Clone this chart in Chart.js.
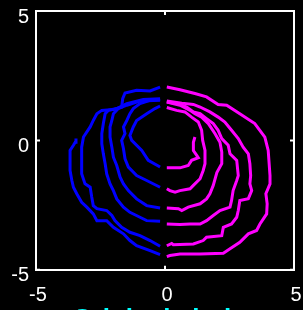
<!DOCTYPE html>
<html><head><meta charset="utf-8">
<script src="https://cdn.jsdelivr.net/npm/chart.js@4/dist/chart.umd.min.js"></script>
<style>
html,body{margin:0;padding:0;background:#000;overflow:hidden;}
#wrap{width:303px;height:335px;position:relative;}
</style></head><body>
<div id="wrap"><canvas id="c"></canvas></div>
<script>
// ---- data ----
const xTicks = [-5, 0, 5];
const yTicks = [-5, 0, 5];
const titleText = 'Original circle';

// right halves of each turn (x >= 0), magenta
const magenta1 = [[1.16,0.13],[1.10,-0.07],[1.10,-0.39],[1.23,-0.58],[1.29,-0.67],[1.03,-0.77],[0.90,-0.97],[0.58,-1.06],[0.07,-1.06]];
const magenta2 = [[0.07,1.27],[0.45,1.16],[0.77,1.10],[1.03,0.90],[1.29,0.71],[1.42,0.39],[1.46,0],[1.55,-0.39],[1.55,-0.90],[1.48,-1.16],[1.36,-1.48],[1.10,-1.74],[0.97,-1.87],[0.58,-1.94],[0.39,-2.00],[0.19,-1.94],[0.07,-1.87]];
const magenta3 = [[0.07,1.48],[0.58,1.36],[0.97,1.16],[1.16,1.03],[1.42,0.90],[1.68,0.65],[1.94,0.26],[2.13,-0.07],[2.20,-0.45],[2.20,-0.90],[2.01,-1.24],[1.87,-1.74],[1.74,-2.06],[1.61,-2.26],[1.36,-2.45],[0.90,-2.58],[0.65,-2.71],[0.52,-2.64],[0.07,-2.61]];
const magenta4 = [[0.07,1.48],[0.52,1.42],[0.84,1.29],[1.10,1.10],[1.36,1.03],[1.61,0.84],[1.87,0.65],[2.06,0.39],[2.20,0.07],[2.45,-0.19],[2.52,-0.52],[2.78,-0.77],[2.84,-1.36],[2.78,-1.55],[2.64,-1.94],[2.58,-2.32],[2.52,-2.58],[2.13,-2.71],[1.87,-2.90],[1.61,-3.10],[1.36,-3.23],[0.97,-3.23],[0.58,-3.25],[0.07,-3.23]];
const magenta5 = [[0.07,1.52],[0.65,1.44],[1.10,1.39],[1.36,1.29],[1.74,1.10],[2.06,0.90],[2.32,0.71],[2.58,0.39],[2.84,0.07],[3.03,-0.26],[3.23,-0.52],[3.29,-0.90],[3.32,-1.36],[3.29,-1.68],[3.36,-1.94],[3.23,-2.25],[2.90,-2.32],[2.84,-2.71],[2.78,-2.97],[2.58,-3.23],[2.26,-3.36],[2.20,-3.68],[1.61,-3.74],[1.48,-3.87],[1.10,-4.00],[0.32,-4.03],[0.26,-3.98],[0.07,-4.07]];
const magenta6 = [[0.07,2.06],[0.58,1.96],[1.16,1.81],[1.61,1.68],[2.06,1.39],[2.39,1.36],[2.90,1.03],[3.48,0.65],[3.87,0.13],[4.00,-0.39],[4.07,-1.36],[4.07,-1.68],[3.91,-2.06],[3.96,-2.45],[3.94,-2.84],[3.68,-3.23],[3.55,-3.48],[3.23,-3.61],[2.90,-3.94],[2.52,-4.19],[2.26,-4.36],[1.36,-4.39],[0.58,-4.39],[0.19,-4.45],[0.07,-4.49]];

// left halves of each turn (x < 0), blue
const blue1 = [[-0.19,-1.03],[-0.65,-0.77],[-0.90,-0.39],[-1.29,0],[-1.36,0.19],[-1.23,0.52],[-1.10,0.77],[-0.71,1.03],[-0.39,1.23],[-0.19,1.33]];
const blue2 = [[-0.19,-1.81],[-0.71,-1.55],[-1.10,-1.36],[-1.42,-1.03],[-1.55,-0.71],[-1.61,-0.32],[-1.68,0],[-1.55,0.26],[-1.61,0.52],[-1.48,0.77],[-1.36,1.03],[-1.23,1.23],[-0.97,1.42],[-0.58,1.55],[-0.19,1.58]];
const blue3 = [[-0.19,-2.61],[-0.71,-2.52],[-1.10,-2.26],[-1.42,-1.94],[-1.61,-1.68],[-1.74,-1.42],[-1.87,-0.97],[-2.00,-0.65],[-2.06,-0.26],[-2.13,0.13],[-2.13,0.52],[-2.06,0.77],[-2.00,1.03],[-1.81,1.23],[-1.48,1.36],[-0.97,1.52],[-0.19,1.55]];
const blue4 = [[-0.19,-3.12],[-0.71,-3.10],[-0.97,-2.97],[-1.36,-2.78],[-1.61,-2.58],[-1.87,-2.26],[-2.00,-1.94],[-2.13,-1.68],[-2.26,-1.29],[-2.32,-0.90],[-2.39,-0.52],[-2.45,-0.13],[-2.45,0.26],[-2.39,0.65],[-2.32,1.03],[-2.20,1.16],[-1.87,1.23],[-1.48,1.42],[-0.84,1.58],[-0.19,1.61]];
const blue5 = [[-0.19,-4.09],[-0.58,-3.87],[-0.97,-3.68],[-1.36,-3.55],[-1.68,-3.36],[-1.94,-3.10],[-2.06,-2.90],[-2.26,-2.71],[-2.64,-2.64],[-2.78,-2.52],[-2.84,-2.19],[-2.90,-1.81],[-3.10,-1.68],[-3.23,-1.29],[-3.23,-0.77],[-3.23,-0.26],[-3.16,0.13],[-2.90,0.52],[-2.78,0.77],[-2.64,1.03],[-2.45,1.16],[-2.00,1.19],[-1.68,1.29],[-1.64,1.61],[-1.55,1.83],[-1.10,1.94],[-0.58,1.91],[-0.19,2.06]];
const blue6 = [[-0.19,-4.41],[-0.58,-4.26],[-1.10,-4.07],[-1.36,-3.87],[-1.61,-3.61],[-2.00,-3.36],[-2.26,-3.10],[-2.64,-3.10],[-2.78,-2.84],[-3.03,-2.58],[-3.23,-2.39],[-3.42,-2.06],[-3.55,-1.81],[-3.61,-1.55],[-3.68,-1.16],[-3.68,-0.65],[-3.68,-0.39],[-3.55,-0.19],[-3.48,-0.07],[-3.45,0.07]];

const rightHalves = [magenta1, magenta2, magenta3, magenta4, magenta5, magenta6];
const leftHalves = [blue1, blue2, blue3, blue4, blue5, blue6];

// ---- chart ----
const FONT = '"Liberation Sans", Arial, Helvetica, sans-serif';
const toPts = arr => arr.map(p => ({x: p[0], y: p[1]}));
const lineDs = (arr, color) => ({data: toPts(arr), borderColor: color, backgroundColor: color,
  borderWidth: 3, showLine: true, pointRadius: 0, pointHoverRadius: 0, fill: false, tension: 0});
const datasets = [];
leftHalves.forEach(s => datasets.push(lineDs(s, '#0000ff')));
rightHalves.forEach(s => datasets.push(lineDs(s, '#ff00ff')));

const innerTicks = {
  id: 'innerTicks',
  afterLayout(chart) {
    // MATLAB-style title sits slightly left of the axes centre
    if (chart.titleBlock) { chart.titleBlock.left -= 12; }
  },
  afterDraw(chart) {
    const {ctx, chartArea: a, scales: {x, y}} = chart;
    ctx.save();
    ctx.strokeStyle = '#ffffff';
    ctx.lineWidth = 2;
    ctx.beginPath();
    xTicks.forEach(v => { const p = x.getPixelForValue(v);
      ctx.moveTo(p, a.top); ctx.lineTo(p, a.top + 4);
      ctx.moveTo(p, a.bottom); ctx.lineTo(p, a.bottom - 4); });
    yTicks.forEach(v => { const p = y.getPixelForValue(v);
      ctx.moveTo(a.left, p); ctx.lineTo(a.left + 4, p);
      ctx.moveTo(a.right, p); ctx.lineTo(a.right - 4, p); });
    ctx.stroke();
    ctx.restore();
  }
};

const zeroPad = s => { s.paddingLeft = 0; s.paddingRight = 0; s.paddingTop = 0; s.paddingBottom = 0; };
const border = {display: true, color: '#ffffff', width: 2};

new Chart(document.getElementById('c'), {
  type: 'scatter',
  data: {datasets},
  options: {
    responsive: true, maintainAspectRatio: false, animation: false,
    layout: {padding: {left: 0, right: 9, top: 11, bottom: 0}},
    plugins: {
      legend: {display: false}, tooltip: {enabled: false},
      title: {display: true, text: titleText, position: 'bottom', fullSize: false,
        color: '#00ffff', font: {family: FONT, size: 26, weight: 'bold'}, padding: {top: 0, bottom: 0}}
    },
    scales: {
      x: {type: 'linear', position: 'bottom', min: -5, max: 5,
        afterBuildTicks: s => { s.ticks = xTicks.map(v => ({value: v})); },
        afterFit: s => { s.height = 34; zeroPad(s); },
        grid: {display: false, drawTicks: false}, border,
        ticks: {color: '#ffffff', font: {family: FONT, size: 20}, padding: 14, labelOffset: 2, autoSkip: false, maxRotation: 0}},
      y: {type: 'linear', position: 'left', min: -5, max: 5,
        afterBuildTicks: s => { s.ticks = yTicks.map(v => ({value: v})); },
        afterFit: s => { s.width = 36; zeroPad(s); },
        grid: {display: false, drawTicks: false}, border,
        ticks: {color: '#ffffff', font: {family: FONT, size: 20}, padding: 7, labelOffset: 6, autoSkip: false}},
      x2: {type: 'linear', axis: 'x', position: 'top', min: -5, max: 5,
        afterFit: s => { s.height = 0; zeroPad(s); },
        grid: {display: false, drawTicks: false}, border, ticks: {display: false}},
      y2: {type: 'linear', axis: 'y', position: 'right', min: -5, max: 5,
        afterFit: s => { s.width = 0; zeroPad(s); },
        grid: {display: false, drawTicks: false}, border, ticks: {display: false}}
    }
  },
  plugins: [innerTicks]
});
</script>
</body></html>
